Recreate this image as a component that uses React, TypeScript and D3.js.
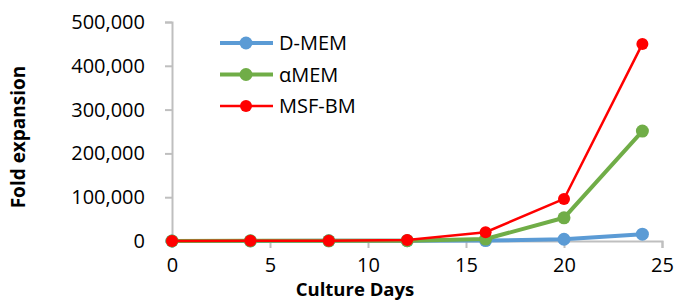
import React, { useEffect, useRef } from 'react';
import * as d3 from 'd3';

const days = [0, 4, 8, 12, 16, 20, 24];
const dmem = [0, 200, 400, 600, 1000, 4000, 15500];
const amem = [0, 300, 500, 800, 4500, 53000, 251000];
const msfbm = [0, 500, 800, 2500, 20000, 96000, 450000];
const seriesNames = ['D-MEM', 'αMEM', 'MSF-BM'];
const seriesColors = ['#5B9BD5', '#70AD47', '#FF0000'];
const xTicks = [0, 5, 10, 15, 20, 25];
const yTicks = [0, 100000, 200000, 300000, 400000, 500000];

export default function App() {
  const chartRef = useRef<SVGSVGElement | null>(null);

  useEffect(() => {
    const svg = d3.select(chartRef.current);
    svg.selectAll('*').remove();

    const font = "'Open Sans', sans-serif";
    const x = d3.scaleLinear().domain([0, 25]).range([172, 662]);
    const y = d3.scaleLinear().domain([0, 500000]).range([241, 22]);

    const axisColor = '#BFBFBF';

    // y axis
    const yAxis = svg.append('g').attr('transform', 'translate(172,0)')
      .call(d3.axisLeft(y).tickValues(yTicks).tickSize(7).tickPadding(20)
        .tickFormat(d => d3.format(',')(d as number)));
    yAxis.select('.domain').attr('stroke', axisColor).attr('stroke-width', 2);
    yAxis.selectAll('.tick line').attr('stroke', axisColor).attr('stroke-width', 2);
    yAxis.selectAll('.tick text').attr('font-family', font).attr('font-size', 20)
      .attr('fill', '#000');

    // x axis
    const xAxis = svg.append('g').attr('transform', 'translate(0,241)')
      .call(d3.axisBottom(x).tickValues(xTicks).tickSize(7).tickPadding(10));
    xAxis.select('.domain').attr('stroke', axisColor).attr('stroke-width', 2);
    xAxis.selectAll('.tick line').attr('stroke', axisColor).attr('stroke-width', 2);
    xAxis.selectAll('.tick text').attr('font-family', font).attr('font-size', 20)
      .attr('fill', '#000');

    // titles
    svg.append('text').attr('x', 355).attr('y', 296).attr('text-anchor', 'middle')
      .attr('font-family', font).attr('font-size', 18.5).attr('font-weight', 'bold')
      .text('Culture Days');
    svg.append('text').attr('transform', 'translate(25,137) rotate(-90)')
      .attr('text-anchor', 'middle')
      .attr('font-family', font).attr('font-size', 19).attr('font-weight', 'bold')
      .text('Fold expansion');

    const allSeries = [dmem, amem, msfbm];
    const widths = [4, 4, 2.5];
    const radii = [6.5, 6.5, 6];
    const line = d3.line<number>().x((_, i) => x(days[i])).y(d => y(d));

    allSeries.forEach((vals, s) => {
      const g = svg.append('g');
      g.append('path').attr('d', line(vals)).attr('fill', 'none')
        .attr('stroke', seriesColors[s]).attr('stroke-width', widths[s])
        .attr('stroke-linejoin', 'round');
      g.selectAll('circle').data(vals).enter().append('circle')
        .attr('cx', (_, i) => x(days[i])).attr('cy', d => y(d))
        .attr('r', radii[s]).attr('fill', seriesColors[s]);
    });

    // legend
    const legendY = [43, 74.5, 106];
    seriesNames.forEach((name, s) => {
      const g = svg.append('g').attr('transform', `translate(0,${legendY[s]})`);
      g.append('line').attr('x1', 220).attr('x2', 273).attr('y1', 0).attr('y2', 0)
        .attr('stroke', seriesColors[s]).attr('stroke-width', widths[s]);
      g.append('circle').attr('cx', 246).attr('cy', 0).attr('r', radii[s])
        .attr('fill', seriesColors[s]);
      g.append('text').attr('x', 279).attr('y', 0).attr('dy', '0.35em')
        .attr('font-family', font).attr('font-size', 20).text(name);
    });
  }, []);

  return (
    <svg ref={chartRef} width={678} height={302}
      style={{ position: 'absolute', left: 0, top: 0, background: '#fff' }} />
  );
}
